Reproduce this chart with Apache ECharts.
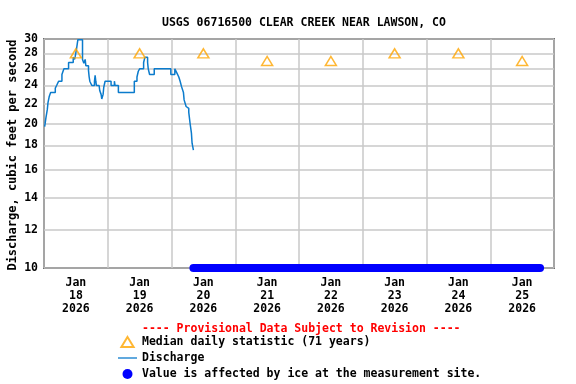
<!DOCTYPE html>
<html>
<head>
<meta charset="utf-8">
<script src="https://cdn.jsdelivr.net/npm/echarts@6/dist/echarts.min.js"></script>
<style>html,body{margin:0;padding:0;background:#fff;}#c{width:576px;height:384px;}</style>
</head>
<body>
<div id="c"></div>
<script>
// hours since Jan 18 2026 00:00
const dischargeHours = [0.25,0.75,1.25,1.5,2,2.5,4.25,4.75,5.5,6.75,7.5,9.25,11,11.5,11.75,12.25,12.75,14.5,15,15.5,15.75,16.75,17,17.25,18,19,19.25,19.5,19.75,20.75,21,21.5,21.75,22.25,22.5,23,25.25,26.5,26.75,28,34,35,35.5,36,37.5,38,39,39.25,39.75,41.5,47.75,49.25,50,50.75,51.25,51.75,52.5,52.75,53.5,54,54.5,55,55.5,55.75,56.25];
const dischargeValues = [19.7,20.6,21.4,22.1,22.8,23.2,23.7,24.0,24.5,25.3,26.0,26.8,27.5,27.2,27.6,28.6,29.9,27.2,26.7,27.2,26.4,25.8,25.0,24.5,24.0,24.5,25.2,24.5,24.0,23.8,23.4,23.0,22.5,23.0,23.8,24.5,24.0,24.5,24.0,23.2,24.5,25.0,25.7,26.0,26.8,27.5,26.8,26.0,25.3,26.0,25.3,26.0,25.5,25.0,24.5,23.9,23.2,22.4,21.7,21.5,21.1,20.0,19.1,18.2,17.6];
const medianHours = [12,36,60,84,108,132,156,180];
const medianValues = [28,28,28,27,27,28,28,27];
const iceHours = [56.25,186.75];
const iceValues = [10,10];
const dayTickHours = [12,36,60,84,108,132,156,180];
const dayLabels = ['Jan\n18\n2026','Jan\n19\n2026','Jan\n20\n2026','Jan\n21\n2026','Jan\n22\n2026','Jan\n23\n2026','Jan\n24\n2026','Jan\n25\n2026'];
const yTicks = [10,12,14,16,18,20,22,24,26,28,30];

const FONT = 'DejaVu Sans Mono';
const chart = echarts.init(document.getElementById('c'), null, {renderer:'canvas'});
const zip = (a,b) => a.map((v,i)=>[v,b[i]]);
chart.setOption({
  animation:false,
  backgroundColor:'#fff',
  title:[
    {text:'USGS 06716500 CLEAR CREEK NEAR LAWSON, CO', left:157, top:12,
     textStyle:{fontFamily:FONT,fontWeight:'bold',fontSize:11.5,color:'#000'}},
    {text:'---- Provisional Data Subject to Revision ----', left:137, top:318,
     textStyle:{fontFamily:FONT,fontWeight:'bold',fontSize:11.5,color:'#ff0000'}}
  ],
  grid:{left:44,right:22,top:39,bottom:116,containLabel:false,outerBoundsMode:'none',
    show:true,borderColor:'#000',borderWidth:1.5,backgroundColor:'transparent'},
  xAxis:{type:'value',min:0,max:192,interval:24,
    axisLine:{show:false},axisTick:{show:false},
    splitLine:{show:true,lineStyle:{color:'#c8c8c8',width:1.5}},
    axisLabel:{customValues:dayTickHours,margin:9,lineHeight:13,
      formatter:(v)=>{const i=dayTickHours.indexOf(v);return i>=0?dayLabels[i]:'';},
      fontFamily:FONT,fontWeight:'bold',fontSize:11.5,color:'#000'}},
  yAxis:{type:'log',logBase:10,min:10,max:30,
    name:'Discharge, cubic feet per second',nameLocation:'middle',nameGap:25,nameMoveOverlap:false,
    nameTextStyle:{fontFamily:FONT,fontWeight:'bold',fontSize:12,color:'#000',padding:[0,0,0,-3]},
    axisLine:{show:false},
    axisTick:{show:false,customValues:yTicks},
    splitLine:{show:true,lineStyle:{color:'#c8c8c8',width:1.5}},
    axisLabel:{customValues:yTicks,margin:6,fontFamily:FONT,fontWeight:'bold',fontSize:11.5,color:'#000'}},
  legend:{orient:'vertical',left:118,top:335,padding:0,itemWidth:19,itemHeight:10,itemGap:2,
    textStyle:{fontFamily:FONT,fontWeight:'bold',fontSize:11.5,color:'#000',lineHeight:14},
    data:[
      {name:'Median daily statistic (71 years)',icon:'path://M5.5,0L11,9L0,9Z'},
      {name:'Discharge',icon:'path://M0,0L19,0L19,1.3L0,1.3Z'},
      {name:'Value is affected by ice at the measurement site.',icon:'circle'}
    ]},
  series:[
    {name:'Discharge',type:'line',step:'end',data:zip(dischargeHours,dischargeValues),
     symbol:'none',lineStyle:{color:'#0b7bcc',width:1.5},itemStyle:{color:'#0b7bcc'},z:3},
    {name:'Value is affected by ice at the measurement site.',type:'line',data:zip(iceHours,iceValues),
     symbol:'none',clip:false,lineStyle:{color:'#0000ff',width:8,cap:'round'},itemStyle:{color:'#0000ff'},z:2},
    {name:'Median daily statistic (71 years)',type:'scatter',data:zip(medianHours,medianValues),
     symbol:'triangle',symbolSize:[11,9],
     itemStyle:{color:'rgba(255,255,255,0)',borderColor:'#ffa500',borderWidth:1.5},z:4}
  ]
});
</script>
</body>
</html>
